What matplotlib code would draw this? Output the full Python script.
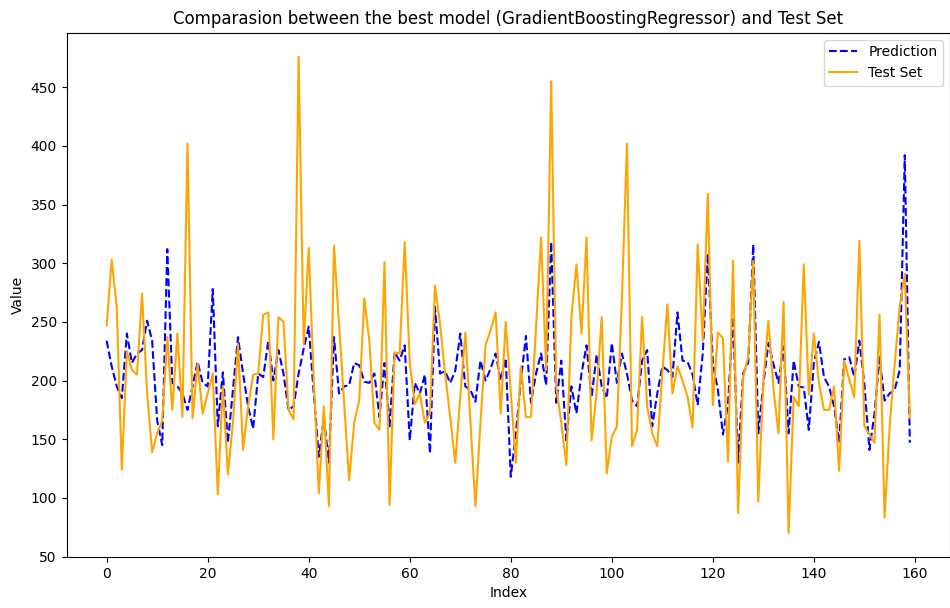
import numpy as np
import matplotlib
matplotlib.use("Agg")
import matplotlib.pyplot as plt

# values (index 0..159)
test_set = [247, 303, 262, 124, 225, 209, 205, 274, 190, 139,
            155, 166, 237, 175, 240, 169, 402, 168, 214, 172,
            189, 206, 103, 195, 120, 164, 231, 141, 178, 205,
            206, 256, 258, 150, 254, 250, 175, 167, 476, 231,
            313, 200, 104, 178, 93, 315, 248, 182, 115, 164,
            183, 270, 234, 164, 158, 301, 94, 224, 223, 318,
            215, 180, 189, 164, 172, 281, 248, 206, 169, 130,
            186, 241, 166, 93, 164, 230, 243, 258, 172, 250,
            190, 130, 212, 169, 169, 245, 322, 209, 455, 195,
            164, 128, 254, 299, 240, 322, 149, 190, 254, 121,
            152, 161, 270, 402, 144, 158, 254, 178, 155, 144,
            206, 265, 189, 212, 200, 186, 160, 316, 234, 359,
            179, 241, 236, 131, 302, 87, 203, 220, 302, 97,
            200, 251, 193, 155, 267, 70, 186, 178, 299, 188,
            240, 198, 175, 175, 195, 123, 217, 201, 186, 319,
            161, 154, 147, 256, 83, 161, 214, 263, 291, 168]

prediction = [234, 212, 195, 185, 240, 215, 223, 226, 251, 234,
              166, 145, 312, 198, 195, 189, 175, 195, 216, 198,
              195, 278, 161, 207, 147, 192, 237, 206, 178, 159,
              206, 203, 234, 200, 226, 206, 175, 178, 206, 227,
              246, 189, 135, 168, 130, 237, 189, 195, 196, 215,
              213, 199, 198, 206, 169, 215, 161, 224, 217, 230,
              149, 198, 189, 205, 138, 263, 206, 208, 198, 208,
              240, 195, 192, 182, 217, 200, 210, 223, 200, 219,
              118, 155, 200, 238, 181, 206, 223, 196, 318, 181,
              217, 149, 195, 172, 206, 230, 186, 222, 195, 185,
              232, 198, 223, 206, 183, 178, 217, 226, 161, 189,
              212, 209, 203, 258, 217, 216, 205, 179, 223, 308,
              215, 192, 154, 180, 254, 130, 206, 215, 316, 155,
              197, 232, 214, 198, 229, 155, 217, 195, 194, 158,
              215, 233, 203, 195, 178, 147, 218, 220, 203, 234,
              197, 141, 172, 220, 183, 189, 192, 209, 392, 147]

index = np.arange(len(test_set))

fig = plt.figure(figsize=(9.5, 6.08), dpi=100)
ax = fig.add_axes([0.07, 0.084, 0.93, 0.862])

ax.plot(index, prediction, '--', color='blue', label='Prediction')
ax.plot(index, test_set, '-', color='orange', label='Test Set')

ax.set_xlabel('Index')
ax.set_ylabel('Value')
ax.set_title('Comparasion between the best model (GradientBoostingRegressor) and Test Set')
ax.legend(loc='upper right')

fig.savefig('out.png', dpi=100)
